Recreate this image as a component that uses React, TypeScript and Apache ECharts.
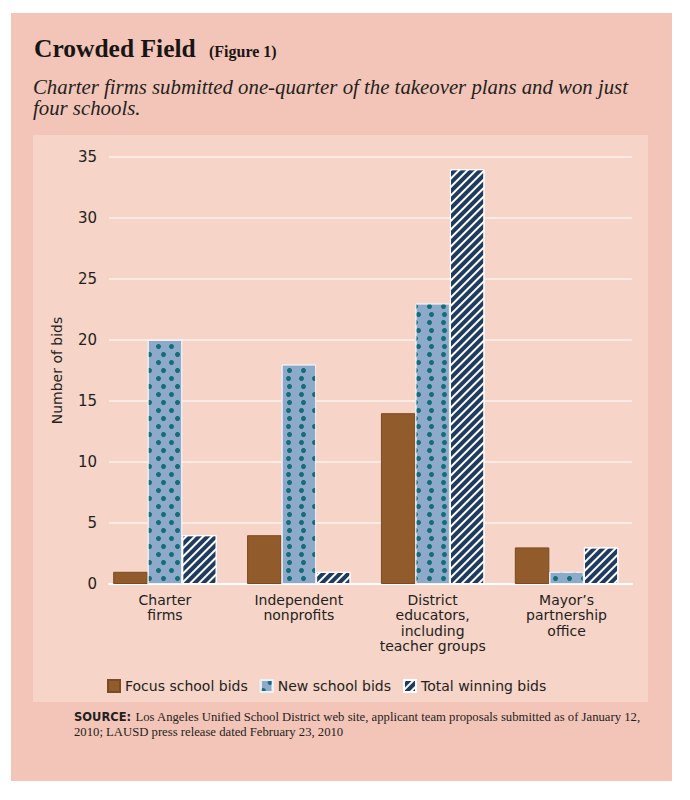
import React, { useEffect, useRef } from 'react';
import * as echarts from 'echarts';

const categories = [
  'Charter\nfirms',
  'Independent\nnonprofits',
  'District\neducators,\nincluding\nteacher groups',
  'Mayor\u2019s\npartnership\noffice',
];
const seriesNames = ['Focus school bids', 'New school bids', 'Total winning bids'];
const focusBids = [1, 4, 14, 3];
const newBids = [20, 18, 23, 1];
const winningBids = [4, 1, 34, 3];
const yMin = 0;
const yMax = 35;
const yStep = 5;
const yAxisName = 'Number of bids';

const titleText = 'Crowded Field';
const figureText = '(Figure 1)';
const subtitleLines = [
  'Charter firms submitted one-quarter of the takeover plans and won just',
  'four schools.',
];
const sourceLabel = 'SOURCE:';
const sourceLines = [
  'Los Angeles Unified School District web site, applicant team proposals submitted as of January 12,',
  '2010; LAUSD press release dated February 23, 2010',
];

const SANS = '"DejaVu Sans", sans-serif';
const SERIF = '"Liberation Serif", serif';
const INK = '#231f20';

export default function App() {
  const ref = useRef<HTMLDivElement>(null);

  useEffect(() => {
    document.body.style.margin = '0';
    const chart = echarts.init(ref.current as HTMLDivElement, null, { renderer: 'svg' });
    const option: any = {
      animation: false,
      backgroundColor: '#ffffff',
      graphic: [
        { type: 'rect', z: -100, silent: true, shape: { x: 11, y: 13, width: 661, height: 768 }, style: { fill: '#f3c5b8' } },
        { type: 'rect', z: -99, silent: true, shape: { x: 33, y: 135, width: 615, height: 567 }, style: { fill: '#f6d4c8' } },
        { type: 'text', x: 34, y: 48.5, style: { text: titleText, fontFamily: SERIF, fontWeight: 'bold', fontSize: 25.5, fill: '#1a1515', verticalAlign: 'middle' } },
        { type: 'text', x: 209, y: 51.5, style: { text: figureText, fontFamily: SERIF, fontWeight: 'bold', fontSize: 16, fill: '#1a1515', verticalAlign: 'middle' } },
        { type: 'text', x: 33, y: 86, style: { text: subtitleLines[0], fontFamily: SERIF, fontStyle: 'italic', fontSize: 20.8, fill: INK, verticalAlign: 'middle' } },
        { type: 'text', x: 33, y: 107, style: { text: subtitleLines[1], fontFamily: SERIF, fontStyle: 'italic', fontSize: 20.8, fill: INK, verticalAlign: 'middle' } },
        { type: 'text', x: 74, y: 717, style: { text: sourceLabel, fontFamily: SANS, fontWeight: 'bold', fontSize: 11.5, fill: INK, verticalAlign: 'middle' } },
        { type: 'text', x: 135.5, y: 717, style: { text: sourceLines[0], fontFamily: SERIF, fontSize: 12.7, fill: INK, verticalAlign: 'middle' } },
        { type: 'text', x: 74, y: 732, style: { text: sourceLines[1], fontFamily: SERIF, fontSize: 12.7, fill: INK, verticalAlign: 'middle' } },
      ],
      legend: {
        left: 107,
        top: 679,
        padding: 0,
        itemWidth: 12,
        itemHeight: 12,
        itemGap: 12,
        icon: 'rect',
        data: seriesNames,
        textStyle: { fontFamily: SANS, fontSize: 14, color: INK },
      },
      grid: [
        { left: 98, right: 56.5, top: 157, bottom: 216 },
        { left: 109, right: 58, top: 157, bottom: 216 },
      ],
      xAxis: [
        {
          type: 'category',
          gridIndex: 0,
          data: categories,
          axisLine: { show: false },
          axisTick: { show: false },
          axisLabel: { interval: 0, margin: 8, fontFamily: SANS, fontSize: 14, lineHeight: 15.5, color: INK },
        },
        {
          type: 'value',
          gridIndex: 1,
          min: 0,
          max: 1,
          axisLine: { show: true, onZero: false, lineStyle: { color: '#ffffff', width: 2 } },
          axisTick: { show: false },
          axisLabel: { show: false },
          splitLine: { show: false },
        },
      ],
      yAxis: [
        { type: 'value', gridIndex: 0, min: yMin, max: yMax, interval: yStep, show: false, splitLine: { show: false } },
        {
          type: 'value',
          gridIndex: 1,
          min: yMin,
          max: yMax,
          interval: yStep,
          axisLine: { show: false },
          axisTick: { show: false },
          axisLabel: { margin: 12, fontFamily: SANS, fontSize: 15, color: INK },
          splitLine: { show: true, lineStyle: { color: '#fdf3ef', width: 1.5 } },
          name: yAxisName,
          nameLocation: 'middle',
          nameGap: 45,
          nameTextStyle: { fontFamily: SANS, fontSize: 14, color: INK },
        },
      ],
      series: [
        {
          name: seriesNames[0],
          type: 'bar',
          xAxisIndex: 0,
          yAxisIndex: 0,
          data: focusBids,
          barWidth: 34.5,
          barGap: '0%',
          itemStyle: { color: '#915b2c', borderColor: '#7a4a22', borderWidth: 1 },
        },
        {
          name: seriesNames[1],
          type: 'bar',
          xAxisIndex: 0,
          yAxisIndex: 0,
          data: newBids,
          barWidth: 34.5,
          barGap: '0%',
          itemStyle: {
            color: '#8eaacb',
            borderColor: '#eef0f4',
            borderWidth: 1,
            decal: {
              symbol: 'circle',
              symbolSize: 1,
              color: '#146d77',
              dashArrayX: [[4.5, 8], [0, 6.25, 4.5, 1.75]],
              dashArrayY: [4.5, 2.3],
            },
          },
        },
        {
          name: seriesNames[2],
          type: 'bar',
          xAxisIndex: 0,
          yAxisIndex: 0,
          data: winningBids,
          barWidth: 34.5,
          barGap: '0%',
          itemStyle: {
            color: '#1f3b60',
            borderColor: '#ffffff',
            borderWidth: 1,
            decal: {
              symbol: 'rect',
              symbolSize: 1,
              color: '#ffffff',
              dashArrayX: [1, 0],
              dashArrayY: [2, 4],
              rotation: -Math.PI / 4,
            },
          },
        },
      ],
    };
    chart.setOption(option);
    return () => chart.dispose();
  }, []);

  return <div ref={ref} style={{ width: 690, height: 800 }} />;
}
